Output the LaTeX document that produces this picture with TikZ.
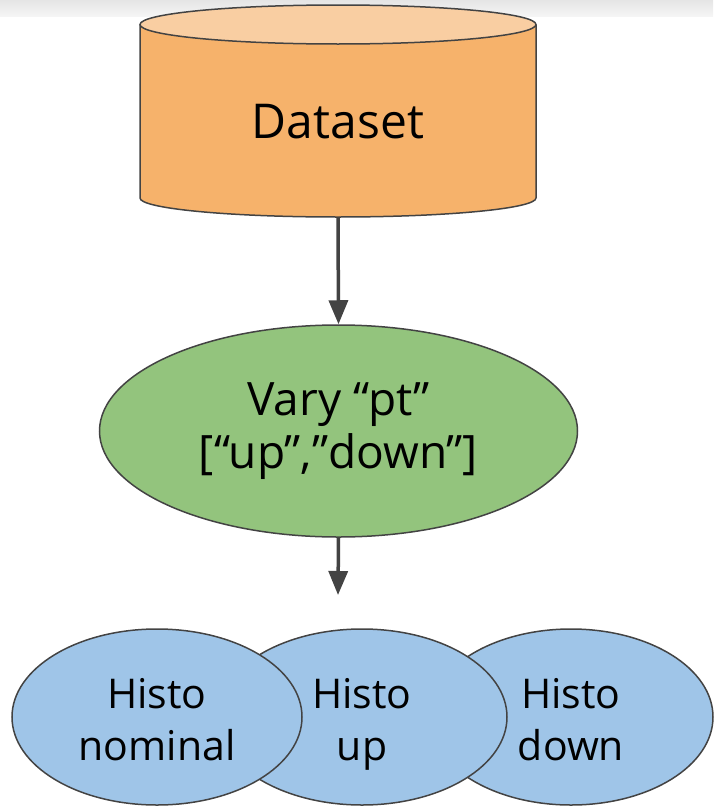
\documentclass[tikz,border=0pt]{standalone}
\usepackage{fontspec}
\setmainfont{Open Sans}
\usetikzlibrary{shapes.geometric,arrows.meta}
\definecolor{edge}{HTML}{434343}
\definecolor{orbody}{HTML}{F6B26B}
\definecolor{ortop}{HTML}{F9CEA2}
\definecolor{grn}{HTML}{93C47D}
\definecolor{blu}{HTML}{9FC5E8}
\newcommand{\topstrut}{\rule{0pt}{44pt}}
\newcommand{\botstrut}{\rule[-10pt]{0pt}{10pt}}
\tikzset{
  outline/.style={draw=edge, line width=1.5pt},
  ell/.style={ellipse, outline, inner sep=0pt, align=center},
  histo/.style={ell, fill=blu, minimum width=290pt, minimum height=176pt, font=\fontsize{41}{52}\selectfont},
  conn/.style={draw=edge, line width=3.5pt, -{Triangle[width=19pt,length=24pt]}}
}
\begin{document}
\begin{tikzpicture}[x=1pt,y=-1pt]
\useasboundingbox (0,0) rectangle (713,806);
% top grey band
\shade[top color=black!10, bottom color=black!4] (0,0) rectangle (713,16);
% cylinder
\fill[orbody] (140,24.5) -- (140,198) arc[start angle=180, end angle=360, x radius=198pt, y radius=19pt] -- (536,24.5) -- cycle;
\draw[outline] (140,24.5) -- (140,198) arc[start angle=180, end angle=360, x radius=198pt, y radius=19pt] -- (536,24.5);
\draw[outline, fill=ortop] (338,24.5) ellipse[x radius=198pt, y radius=19.5pt];
\node[inner sep=0pt, font=\fontsize{48}{58}\selectfont] (ds) at (338,122) {Dataset};
\coordinate (dsb) at (338,217);
% vary node
\node[ell, fill=grn, minimum width=478pt, minimum height=212pt, font=\fontsize{46}{53}\selectfont] (vary) at (338.5,431) {Vary “pt”\\{[}“up”,”down”{]}};
\coordinate (out) at (338,595);
% histograms (right drawn first)
\node[histo, minimum width=284pt] (hd) at (571,717) {\topstrut Histo\\down\botstrut};
\node[histo] (hu) at (362,717) {\topstrut Histo\\up\botstrut};
\node[histo] (hn) at (157,717) {\topstrut Histo\\nominal\botstrut};
% connectors
\draw[conn] (dsb) -- (vary.north);
\draw[conn] (vary.south) -- (out);
\end{tikzpicture}
\end{document}
